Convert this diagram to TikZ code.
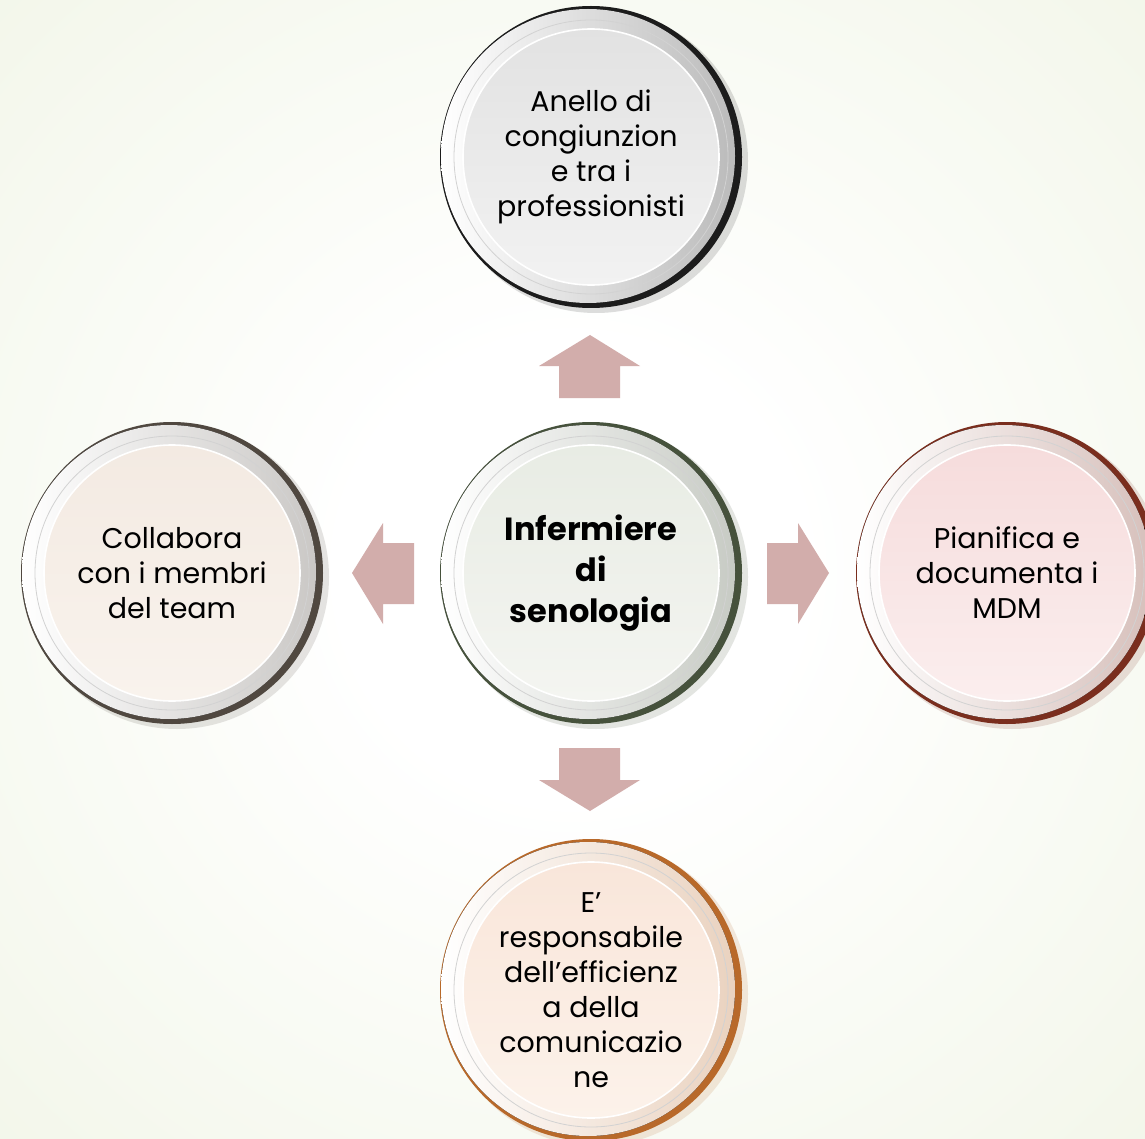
\documentclass[tikz,border=0pt]{standalone}
\usepackage{fontspec}
\setmainfont{Poppins}
\usetikzlibrary{calc}
\definecolor{bgouter}{RGB}{228,236,208}
\definecolor{arrowc}{RGB}{210,173,171}
\definecolor{rimA}{RGB}{28,28,28}
\definecolor{rimB}{RGB}{70,82,60}
\definecolor{rimC}{RGB}{80,72,64}
\definecolor{rimD}{RGB}{122,46,30}
\definecolor{rimE}{RGB}{184,105,42}
\definecolor{fillAa}{RGB}{226,226,226}
\definecolor{fillAb}{RGB}{242,242,242}
\definecolor{fillBa}{RGB}{232,236,228}
\definecolor{fillBb}{RGB}{244,245,241}
\definecolor{fillCa}{RGB}{243,234,226}
\definecolor{fillCb}{RGB}{249,243,237}
\definecolor{fillDa}{RGB}{246,220,220}
\definecolor{fillDb}{RGB}{251,238,238}
\definecolor{fillEa}{RGB}{249,230,218}
\definecolor{fillEb}{RGB}{252,242,234}
\pgfdeclareradialshading{bgshade}{\pgfpoint{0bp}{0bp}}{color(0bp)=(white); color(10bp)=(white); color(68bp)=(bgouter)}
\tikzset{
  bubbletext/.style={circle, minimum size=302pt, inner sep=0pt, align=center, text=black,
    font=\fontsize{28.5}{35}\selectfont},
  boldtext/.style={font=\fontsize{32}{41}\selectfont\bfseries},
  arrowshape/.style={fill=arrowc, draw=none}
}
\newcommand\bubble[8]{%
  \fill[#4, opacity=0.15] (#2+5,#3+4) circle[radius=152pt];
  \fill[#4] (#2,#3) circle[radius=151pt];
  \fill[left color=white, right color=#4!30!white] (#2-3,#3-1) circle[radius=147pt];
  \draw[gray!35, line width=0.8pt] (#2,#3) circle[radius=137pt];
  \fill[top color=#5, bottom color=#6] (#2,#3) circle[radius=128pt];
  \draw[white, line width=1.6pt] (#2,#3) circle[radius=128pt];
  \node[bubbletext, #8] (#1) at (#2,#3) {#7};
}
\begin{document}
\begin{tikzpicture}[x=1pt,y=-1pt]
\useasboundingbox (0,0) rectangle (1145,1139);
\shade[shading=bgshade] (0,0) rectangle (1145,1139);

\bubble{top}{591}{157}{rimA}{fillAa}{fillAb}{Anello di\\congiunzion\\e tra i\\professionisti}{}
\bubble{center}{591}{573}{rimB}{fillBa}{fillBb}{Infermiere\\di\\senologia}{boldtext}
\bubble{left}{172}{573}{rimC}{fillCa}{fillCb}{Collabora\\con i membri\\del team}{}
\bubble{right}{1007}{573}{rimD}{fillDa}{fillDb}{Pianifica e\\documenta i\\MDM}{}
\bubble{bottom}{591}{990}{rimE}{fillEa}{fillEb}{E’\\responsabile\\dell’efficienz\\a della\\comunicazio\\ne}{}

% block arrows
\fill[arrowshape] (590,335) -- (640,366) -- (620,366) -- (620,398) -- (559,398) -- (559,366) -- (539,366) -- cycle;
\fill[arrowshape] (590,811) -- (640,780) -- (620,780) -- (620,748) -- (559,748) -- (559,780) -- (539,780) -- cycle;
\fill[arrowshape] (352,573) -- (383,523) -- (383,543) -- (414,543) -- (414,604) -- (383,604) -- (383,624) -- cycle;
\fill[arrowshape] (829,573) -- (798,523) -- (798,543) -- (767,543) -- (767,604) -- (798,604) -- (798,624) -- cycle;
\end{tikzpicture}
\end{document}
